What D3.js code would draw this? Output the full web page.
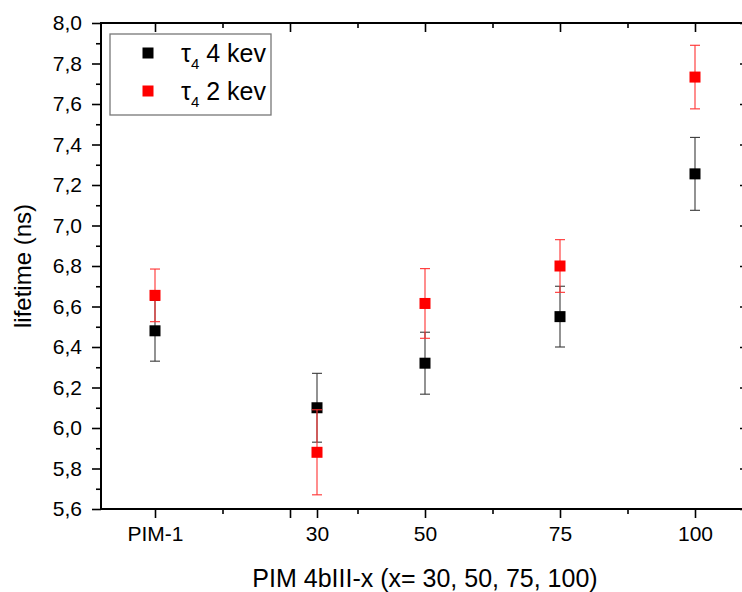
<!DOCTYPE html>
<html>
<head>
<meta charset="utf-8">
<script src="https://cdn.jsdelivr.net/npm/d3@7"></script>
<style>
  body { margin: 0; background: #fff; }
  svg { display: block; font-family: 'Liberation Sans', Arial, sans-serif; }
</style>
</head>
<body>
<svg id="chart" width="742" height="592"></svg>
<script>
// samples on the x axis (PIM-1 sits at 0)
const sampleX = [0, 30, 50, 75, 100];
const sampleLabels = ['PIM-1', '30', '50', '75', '100'];

// tau4 lifetimes (ns) and errors
const tau4kev = [6.48, 6.10, 6.32, 6.55, 7.255];
const tau4kevErr = [0.15, 0.17, 0.153, 0.15, 0.18];
const tau2kev = [6.655, 5.88, 6.615, 6.80, 7.733];
const tau2kevErr = [0.13, 0.21, 0.172, 0.13, 0.157];

const yMajor = [5.6, 5.8, 6.0, 6.2, 6.4, 6.6, 6.8, 7.0, 7.2, 7.4, 7.6, 7.8, 8.0];
const yMinor = [5.7, 5.9, 6.1, 6.3, 6.5, 6.7, 6.9, 7.1, 7.3, 7.5, 7.7, 7.9];
const xMajor = [0, 25, 30, 50, 75, 100];
const xMinor = [12.5, 37.5, 62.5, 87.5];

const series = [
  {name: '4 kev', values: tau4kev, err: tau4kevErr, color: '#000', bar: '#3a3a3a'},
  {name: '2 kev', values: tau2kev, err: tau2kevErr, color: '#f00', bar: '#ff3030'},
];

const svg = d3.select('#chart');
const margin = {top: 23, left: 101, right: 749, bottom: 509};

const x = d3.scaleLinear().domain([-10, 110]).range([margin.left, margin.right]);
const y = d3.scaleLinear().domain([5.6, 8.0]).range([margin.bottom, margin.top]);

const comma = d3.formatLocale({decimal: ',', thousands: '.', grouping: [3], currency: ['', '']}).format('.1f');

function styleAxis(g, fontSize) {
  g.select('.domain').remove();
  g.selectAll('line').attr('stroke', '#000').attr('stroke-width', 1.6);
  g.selectAll('text').attr('fill', '#000').style('font-size', fontSize + 'px').style('font-family', 'Liberation Sans, Arial, sans-serif');
}

// left axis
svg.append('g').attr('transform', `translate(${margin.left},0)`)
  .call(d3.axisLeft(y).tickValues(yMinor).tickSize(5).tickFormat(''))
  .call((g) => styleAxis(g, 20));
svg.append('g').attr('transform', `translate(${margin.left},0)`)
  .call(d3.axisLeft(y).tickValues(yMajor).tickSize(9).tickPadding(10).tickFormat(comma))
  .call((g) => styleAxis(g, 21));

// right axis (mirror, inward)
svg.append('g').attr('transform', `translate(${margin.right},0)`)
  .call(d3.axisRight(y).tickValues(yMajor).tickSize(-9).tickFormat(''))
  .call((g) => styleAxis(g, 20));

// bottom axis
const labelFor = (v) => {
  const i = sampleX.indexOf(v);
  return i >= 0 ? sampleLabels[i] : '';
};
svg.append('g').attr('transform', `translate(0,${margin.bottom})`)
  .call(d3.axisBottom(x).tickValues(xMinor).tickSize(5).tickFormat(''))
  .call((g) => styleAxis(g, 20));
svg.append('g').attr('transform', `translate(0,${margin.bottom})`)
  .call(d3.axisBottom(x).tickValues(xMajor).tickSize(9).tickPadding(8).tickFormat(labelFor))
  .call((g) => styleAxis(g, 21));

// top axis (mirror, inward)
svg.append('g').attr('transform', `translate(0,${margin.top})`)
  .call(d3.axisTop(x).tickValues(xMinor).tickSize(-5).tickFormat(''))
  .call((g) => styleAxis(g, 20));
svg.append('g').attr('transform', `translate(0,${margin.top})`)
  .call(d3.axisTop(x).tickValues(xMajor.filter((v) => v !== 30)).tickSize(-9).tickFormat(''))
  .call((g) => styleAxis(g, 20));

// frame
svg.append('rect')
  .attr('x', margin.left).attr('y', margin.top)
  .attr('width', margin.right - margin.left).attr('height', margin.bottom - margin.top)
  .attr('fill', 'none').attr('stroke', '#000').attr('stroke-width', 2);

// error bars + markers
const cap = 5;
const sq = 11;
series.forEach((s) => {
  const g = svg.append('g');
  const pts = s.values.map((v, i) => ({x: sampleX[i], v, e: s.err[i]}));
  g.selectAll('line.bar').data(pts).join('line')
    .attr('x1', (d) => x(d.x)).attr('x2', (d) => x(d.x))
    .attr('y1', (d) => y(d.v + d.e)).attr('y2', (d) => y(d.v - d.e))
    .attr('stroke', s.bar).attr('stroke-width', 1.1);
  [1, -1].forEach((sign) => {
    g.selectAll(null).data(pts).join('line')
      .attr('x1', (d) => x(d.x) - cap).attr('x2', (d) => x(d.x) + cap)
      .attr('y1', (d) => y(d.v + sign * d.e)).attr('y2', (d) => y(d.v + sign * d.e))
      .attr('stroke', s.bar).attr('stroke-width', 1.1);
  });
  g.selectAll('rect').data(pts).join('rect')
    .attr('x', (d) => x(d.x) - sq / 2).attr('y', (d) => y(d.v) - sq / 2)
    .attr('width', sq).attr('height', sq)
    .attr('fill', s.color);
});

// legend
const legend = svg.append('g');
legend.append('rect')
  .attr('x', 110).attr('y', 34).attr('width', 161).attr('height', 81)
  .attr('fill', '#fff').attr('stroke', '#777').attr('stroke-width', 1.3);
series.forEach((s, i) => {
  const cy = 53 + i * 38;
  legend.append('rect')
    .attr('x', 148 - sq / 2).attr('y', cy - sq / 2).attr('width', sq).attr('height', sq)
    .attr('fill', s.color);
  const t = legend.append('text')
    .attr('x', 181).attr('y', cy + 9)
    .style('font-size', '25px').attr('fill', '#000');
  t.append('tspan').text('τ');
  t.append('tspan').attr('dy', 7).style('font-size', '15px').text('4');
  t.append('tspan').attr('dy', -7).attr('dx', 7).text(s.name);
});

// axis titles
svg.append('text')
  .attr('x', (margin.left + margin.right) / 2).attr('y', 587)
  .attr('text-anchor', 'middle').style('font-size', '25px').attr('fill', '#000')
  .text('PIM 4bIII-x (x= 30, 50, 75, 100)');
svg.append('text')
  .attr('transform', `translate(31,${(margin.top + margin.bottom) / 2}) rotate(-90)`)
  .attr('text-anchor', 'middle').style('font-size', '24px').attr('fill', '#000')
  .text('lifetime (ns)');
</script>
</body>
</html>
